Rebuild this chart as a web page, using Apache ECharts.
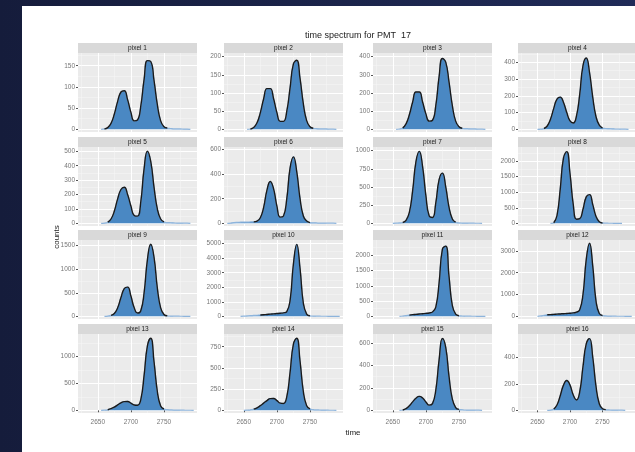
<!DOCTYPE html>
<html>
<head>
<meta charset="utf-8">
<script src="https://cdn.jsdelivr.net/npm/echarts@6/dist/echarts.min.js"></script>
<style>
html, body { margin: 0; padding: 0; width: 635px; height: 452px; overflow: hidden; background: linear-gradient(90deg, #151c3b, #202b58); }
#paper { position: absolute; left: 22px; top: 6px; right: 0; bottom: 0; background: #fff; }
#chart { position: absolute; left: 0; top: 0; width: 635px; height: 452px; }
</style>
</head>
<body>
<div id="paper"></div>
<div id="chart"></div>
<script>
// time samples shared by every panel
var times = [2620,2625,2630,2635,2640,2645,2650,2655,2660,2665,2670,2675,2680,2685,2690,2695,2700,2705,2710,2715,2720,2725,2730,2735,2740,2745,2750,2755,2760,2765,2770,2775,2780,2785,2790,2795,2800];

var panelNames = ['pixel 1','pixel 2','pixel 3','pixel 4','pixel 5','pixel 6','pixel 7','pixel 8',
                  'pixel 9','pixel 10','pixel 11','pixel 12','pixel 13','pixel 14','pixel 15','pixel 16'];

// counts per time sample
var pixel1  = [0,0,0,0,0,0,0,0,1,4,14,36,66,88,91,70,40,20,22,55,118,162,160,115,58,20,6,3,2,1,1,1,0.5,0.5,0,0,0];
var pixel2  = [0,0,0,0,0,0,0,0,1,5,18,46,84,112,112,84,46,22,22,50,115,180,190,140,70,24,7,3,2,1,1,1,0.5,0.5,0,0,0];
var pixel3  = [0,0,0,0,0,0,0,0,2,8,30,80,150,205,205,150,85,45,50,130,290,390,370,260,130,45,14,6,4,3,2,2,1,1,0,0,0];
var pixel4  = [0,0,0,0,0,0,0,1,5,20,60,125,180,192,160,100,50,38,80,210,380,425,340,190,75,25,8,5,4,3,2,2,1,1,0,0,0];
var pixel5  = [0,0,0,0,0,0,0,0,2,8,30,85,170,235,250,200,120,55,50,150,380,500,430,250,100,30,10,5,4,3,2,2,1,1,0,0,0];
var pixel6  = [0,0,2,6,8,9,10,10,11,12,18,45,130,270,340,280,140,50,60,200,450,540,420,200,60,18,6,4,3,2,2,1,1,1,0,0,0];
var pixel7  = [0,0,0,0,0,0,0,2,5,12,40,150,450,850,990,780,380,100,80,280,600,690,500,220,60,15,6,4,3,2,2,1,1,0,0,0,0];
var pixel8  = [0,0,0,0,0,0,0,0,0,0,0,20,250,1100,2100,2300,1600,600,130,150,450,850,920,600,220,50,12,5,3,2,1,1,0,0,0,0,0];
var pixel9  = [0,0,0,0,0,0,0,0,0,5,20,60,180,400,590,620,430,180,70,120,500,1200,1530,1250,600,180,40,12,6,4,3,2,1,1,0,0,0];
var pixel10 = [0,0,0,0,0,0,10,30,45,60,75,90,110,130,150,170,190,210,240,330,1100,3600,4950,3300,900,150,40,20,12,8,6,4,3,2,1,0,0];
var pixel11 = [0,0,0,0,0,0,0,0,0,10,25,40,55,65,75,85,95,110,140,300,1100,2200,2300,1300,350,70,20,10,6,4,3,2,1,1,0,0,0];
var pixel12 = [0,0,0,0,0,0,0,20,50,70,80,90,100,110,120,130,140,160,190,300,1000,2600,3350,2300,700,130,40,20,12,8,5,4,3,2,1,0,0];
var pixel13 = [0,0,0,0,0,0,0,0,2,10,30,60,100,140,162,165,135,100,95,200,650,1200,1340,900,350,80,25,12,8,5,4,3,2,1,1,0,0];
var pixel14 = [0,0,0,0,0,0,0,2,6,15,30,55,85,115,138,140,115,85,80,160,450,780,850,580,220,55,18,8,5,4,3,2,1,1,0,0,0];
var pixel15 = [0,0,0,0,0,0,0,0,0,3,15,40,75,108,124,110,75,46,60,180,450,640,560,300,100,25,8,5,3,2,2,1,1,0,0,0,0];
var pixel16 = [0,0,0,0,0,0,0,0,0,0,2,10,40,110,190,225,190,115,78,140,330,500,540,400,180,50,12,5,3,2,2,1,1,0,0,0,0];

var counts = [pixel1, pixel2, pixel3, pixel4, pixel5, pixel6, pixel7, pixel8,
              pixel9, pixel10, pixel11, pixel12, pixel13, pixel14, pixel15, pixel16];

// y tick labels per panel (free scales) and the top of each panel's y range
var yTicks = [
  [0,50,100,150], [0,50,100,150,200], [0,100,200,300,400], [0,100,200,300,400],
  [0,100,200,300,400,500], [0,200,400,600], [0,250,500,750,1000], [0,500,1000,1500,2000],
  [0,500,1000,1500], [0,1000,2000,3000,4000,5000], [0,500,1000,1500,2000], [0,1000,2000,3000],
  [0,500,1000], [0,250,500,750], [0,200,400,600], [0,200,400]
];
var yTops = [180, 210, 420, 455, 530, 620, 1050, 2450, 1620, 5250, 2500, 3500, 1420, 900, 680, 575];

var xTicks = [2650, 2700, 2750];
var xMinorTicks = [2625, 2675, 2725, 2775];
var xMin = 2620, xMax = 2800;

function echarts_facets() {
    var colLeft = [78, 224, 373, 518];
    var stripTop = [43, 137, 230, 324];
    var panelW = 119, stripH = 10, plotH = 79;
    var fill = '#4a88c3';
    var font = 'Liberation Sans, Arial, sans-serif';

    var myChart = echarts.init(document.getElementById('chart'));
    var grids = [], xAxes = [], yAxes = [], series = [], graphics = [];

    function plain(v) { return String(v); }

    for (var i = 0; i < 16; i++) {
        var col = i % 4, row = Math.floor(i / 4);
        var gLeft = colLeft[col], gTop = stripTop[row] + stripH;
        var bottomRow = row === 3;
        var yTop = yTops[i], yBottom = -yTop * 0.035;

        grids.push({ left: gLeft, top: gTop, width: panelW, height: plotH, show: true,
                     backgroundColor: '#ebebeb', borderWidth: 0 });

        // major x grid + labels (labels only on the bottom row)
        xAxes.push({
            gridIndex: i, type: 'value', min: xMin, max: xMax,
            axisLine: { show: false },
            axisTick: { show: bottomRow, customValues: xTicks, length: 2, lineStyle: { color: '#555' } },
            axisLabel: { show: bottomRow, customValues: xTicks, formatter: plain, fontSize: 6.5, color: '#777', margin: 6, fontFamily: font },
            splitLine: { show: true, lineStyle: { color: '#ffffff', width: 1 } }
        });
        // minor x grid
        xAxes.push({
            gridIndex: i, type: 'value', min: xMin, max: xMax,
            axisLine: { show: false },
            axisTick: { show: false, customValues: xMinorTicks },
            axisLabel: { show: false, customValues: xMinorTicks },
            splitLine: { show: true, lineStyle: { color: '#f6f6f6', width: 0.5 } }
        });

        var ticks = yTicks[i];
        var minor = [];
        for (var k = 0; k < ticks.length; k++) {
            var m = ticks[k] + (ticks[1] - ticks[0]) / 2;
            if (m < yTop) minor.push(m);
        }
        yAxes.push({
            gridIndex: i, type: 'value', min: yBottom, max: yTop,
            axisLine: { show: false },
            axisTick: { show: true, customValues: ticks, length: 2, lineStyle: { color: '#555' } },
            axisLabel: { customValues: ticks, formatter: plain, fontSize: 6.5, color: '#777', margin: 3, fontFamily: font },
            splitLine: { show: true, lineStyle: { color: '#ffffff', width: 1 } }
        });
        yAxes.push({
            gridIndex: i, type: 'value', min: yBottom, max: yTop,
            axisLine: { show: false },
            axisTick: { show: false, customValues: minor },
            axisLabel: { show: false, customValues: minor },
            splitLine: { show: true, lineStyle: { color: '#f6f6f6', width: 0.5 } }
        });

        // drop the empty stretch before/after the curve, keep the outline off the flat tail
        var vals = counts[i];
        var first = 0, last = vals.length - 1;
        while (first < vals.length && vals[first] <= 0) first++;
        while (last > 0 && vals[last] <= 0) last--;
        var areaData = [], lineData = [];
        var thr = yTop * 0.02;
        for (var k = 0; k < times.length; k++) {
            var inside = k >= first - 1 && k <= last + 1;
            areaData.push([times[k], inside ? vals[k] : null]);
            var near = vals[k] > thr || (k > 0 && vals[k - 1] > thr) || (k < vals.length - 1 && vals[k + 1] > thr);
            lineData.push([times[k], inside && near ? vals[k] : null]);
        }

        series.push({
            type: 'line', xAxisIndex: 2 * i, yAxisIndex: 2 * i,
            data: areaData, smooth: 0.5, showSymbol: false, silent: true,
            lineStyle: { color: '#8db4dc', width: 1.2 },
            areaStyle: { color: fill, opacity: 1 }
        });
        series.push({
            type: 'line', xAxisIndex: 2 * i, yAxisIndex: 2 * i,
            data: lineData, smooth: 0.5, showSymbol: false, silent: true,
            lineStyle: { color: '#1a1a1a', width: 1.4 }
        });

        // facet strip
        graphics.push({
            type: 'rect', left: gLeft, top: stripTop[row],
            shape: { width: panelW, height: stripH },
            style: { fill: '#d9d9d9' }
        });
        graphics.push({
            type: 'text', x: gLeft + panelW / 2, y: stripTop[row] + stripH / 2,
            style: { text: panelNames[i], fill: '#1a1a1a', fontSize: 6.5, fontFamily: font,
                     textAlign: 'center', textVerticalAlign: 'middle' }
        });
    }

    graphics.push({ type: 'text', x: 358, y: 36,
        style: { text: 'time spectrum for PMT  17', fill: '#222', fontSize: 9, fontFamily: font, textAlign: 'center', textVerticalAlign: 'middle' } });
    graphics.push({ type: 'text', x: 353, y: 433,
        style: { text: 'time', fill: '#222', fontSize: 8, fontFamily: font, textAlign: 'center', textVerticalAlign: 'middle' } });
    graphics.push({ type: 'text', x: 57, y: 237, rotation: Math.PI / 2,
        style: { text: 'counts', fill: '#222', fontSize: 8, fontFamily: font, textAlign: 'center', textVerticalAlign: 'middle' } });

    var option = {
        animation: false,
        grid: grids,
        xAxis: xAxes,
        yAxis: yAxes,
        series: series,
        graphic: graphics
    };
    myChart.setOption(option);
    window.addEventListener("resize", function () {
        myChart.resize();
    });
}

echarts_facets();
</script>
</body>
</html>
